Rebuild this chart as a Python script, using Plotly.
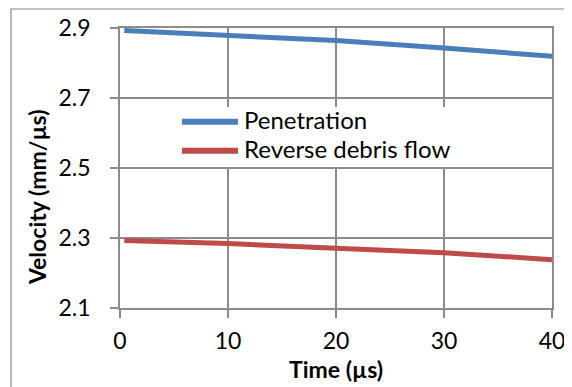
import plotly.graph_objects as go

# Data
time_us = [0.4, 10, 20, 30, 40]
penetration = [2.893, 2.879, 2.864, 2.843, 2.819]
reverse_flow = [2.293, 2.284, 2.271, 2.258, 2.238]

series_names = ["Penetration", "Reverse debris flow"]
series_colors = ["#4a7ebb", "#be4b48"]

x_ticks = [0, 10, 20, 30, 40]
y_ticks = [2.1, 2.3, 2.5, 2.7, 2.9]
y_tick_labels = ["2.1", "2.3", "2.5", "2.7", "2.9"]

FONT = "Lato, 'Open Sans', sans-serif"
GRID = "#8c8c8c"

fig = go.Figure()
for name, color, values in zip(series_names, series_colors, [penetration, reverse_flow]):
    fig.add_trace(go.Scatter(x=time_us, y=values, mode="lines", name=name,
                             line=dict(color=color, width=5)))

axis_common = dict(showline=True, linecolor=GRID, linewidth=1.8, mirror=True,
                   showgrid=True, gridcolor=GRID, gridwidth=1.8,
                   ticks="outside", ticklen=8, tickwidth=1.8, tickcolor=GRID,
                   zeroline=False, automargin=False, ticklabeloverflow="allow",
                   tickfont=dict(family=FONT, size=23, color="black"))

fig.update_xaxes(range=[0, 40], tickvals=x_ticks, ticklabelstandoff=3, **axis_common)
fig.update_yaxes(range=[2.1, 2.9], tickvals=y_ticks, ticktext=y_tick_labels,
                 ticklabelstandoff=15, **axis_common)

# Legend drawn inside the plot area (white box, long sample lines, labels)
legend_box = dict(x0=0.12, x1=0.822, y0=0.504, y1=0.718)
legend_rows_y = [0.6654, 0.5618]
legend_line_x = (0.1435, 0.2731)
legend_text_x = 0.2824

shapes = [
    dict(type="rect", xref="paper", yref="paper",
         x0=-0.2523, x1=1.2, y0=-0.5, y1=1.0679,
         line=dict(color="#8c8c8c", width=1.2), layer="below"),
    dict(type="rect", xref="paper", yref="paper", layer="above",
         fillcolor="white", line=dict(width=0), **legend_box),
]
annotations = [
    dict(text="<b>Velocity (mm/µs)</b>", xref="paper", yref="paper",
         x=-0.192, y=0.3964, xanchor="center", yanchor="middle",
         textangle=-90, showarrow=False,
         font=dict(family=FONT, size=23, color="black")),
    dict(text="<b>Time (µs)</b>", xref="paper", yref="paper",
         x=0.5, y=-0.2179, xanchor="center", yanchor="middle", showarrow=False,
         font=dict(family=FONT, size=23, color="black")),
]
for name, color, ry in zip(series_names, series_colors, legend_rows_y):
    shapes.append(dict(type="line", xref="paper", yref="paper", layer="above",
                       x0=legend_line_x[0], x1=legend_line_x[1], y0=ry, y1=ry,
                       line=dict(color=color, width=6)))
    annotations.append(dict(text=name, xref="paper", yref="paper",
                            x=legend_text_x, y=ry + 0.008, xanchor="left", yanchor="middle",
                            showarrow=False,
                            font=dict(family=FONT, size=24, color="black")))

fig.update_layout(
    width=564, height=379,
    margin=dict(l=112, r=20, t=20, b=79),
    paper_bgcolor="white", plot_bgcolor="white",
    showlegend=False,
    annotations=annotations,
    shapes=shapes,
)

fig.write_html("out.html")
